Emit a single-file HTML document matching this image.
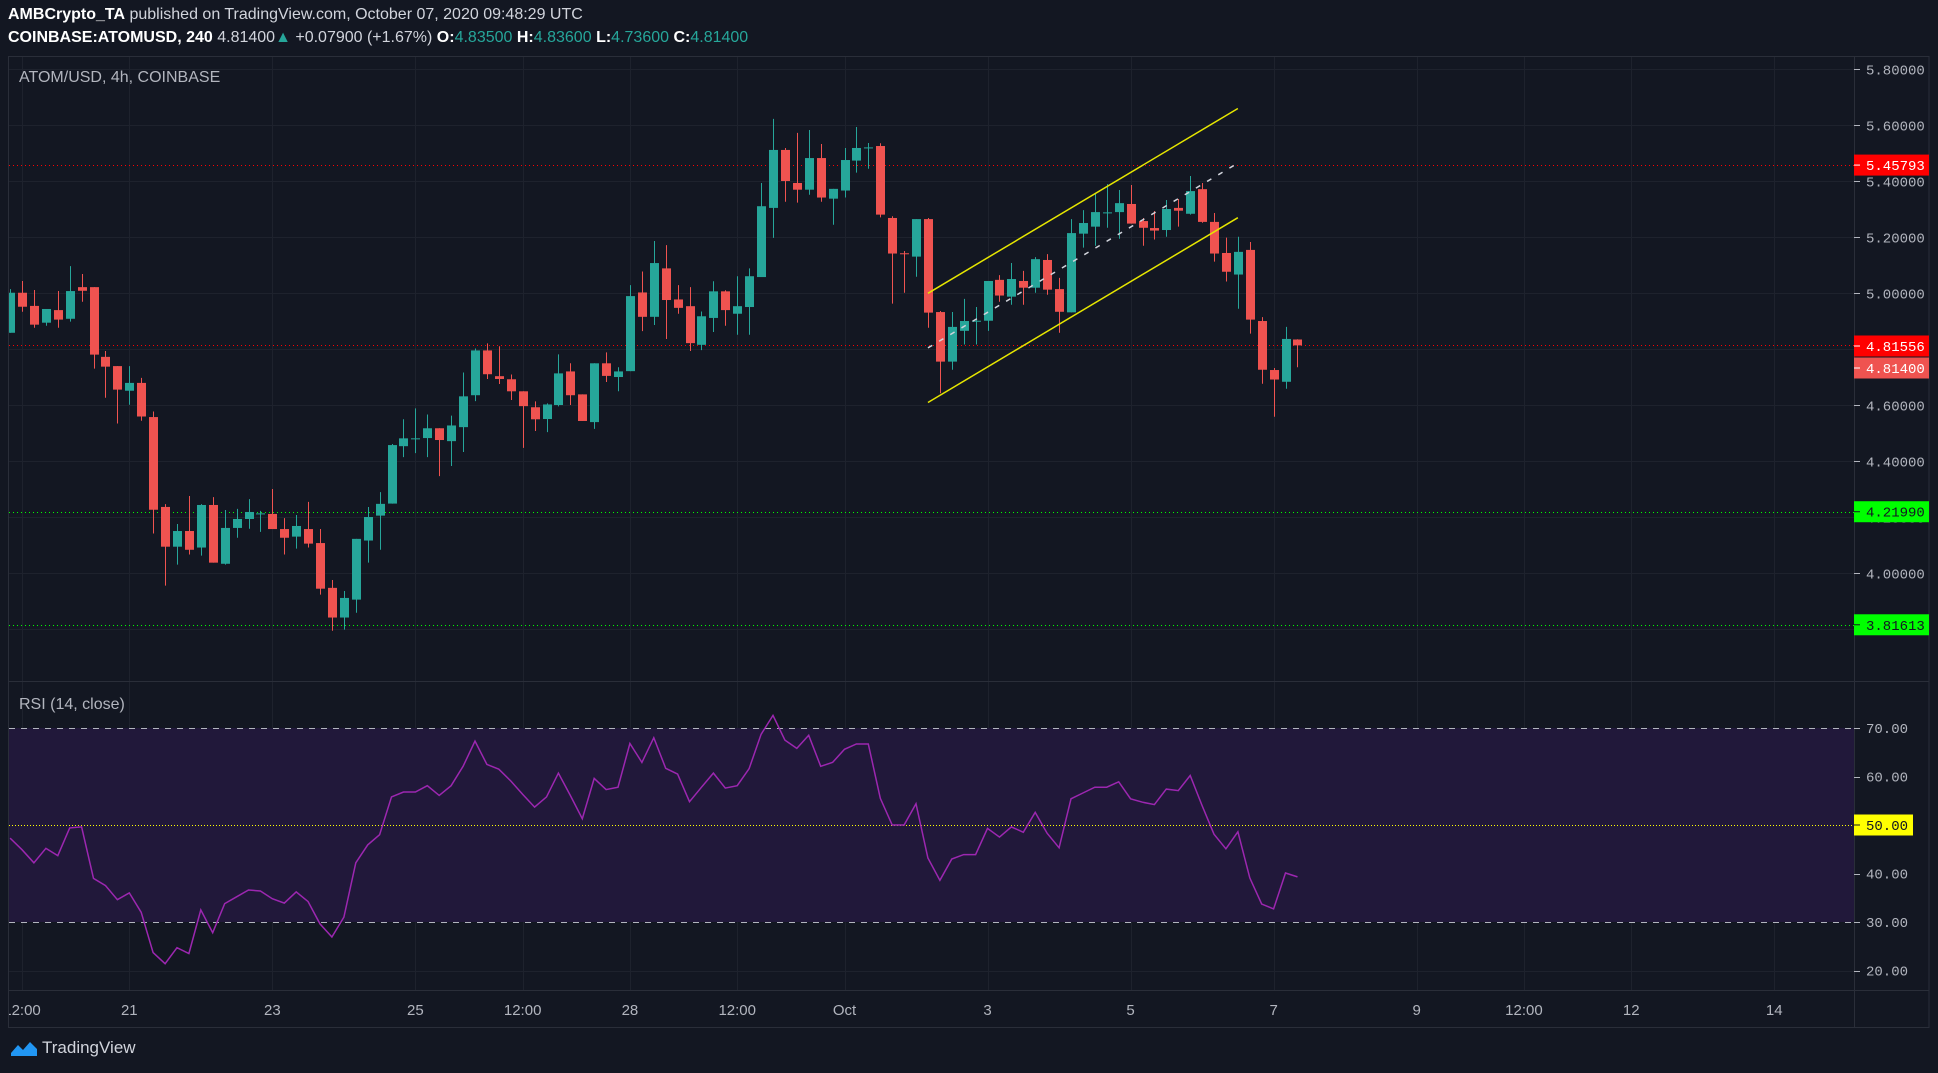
<!DOCTYPE html>
<html><head><meta charset="utf-8">
<style>
html,body{margin:0;padding:0;background:#131722;}
body{width:1938px;height:1073px;overflow:hidden;position:relative;font-family:"Liberation Sans",sans-serif;}
.hdr{position:absolute;left:8px;color:#d1d4dc;font-size:16px;white-space:nowrap;}
svg{position:absolute;left:0;top:0;}
</style></head>
<body>
<div class="hdr" style="top:6px"><b style="color:#fff">AMBCrypto_TA</b> published on TradingView.com, October 07, 2020 09:48:29 UTC</div>
<div class="hdr" style="top:29px"><b style="color:#fff">COINBASE:ATOMUSD, 240</b> 4.81400<span style="color:#26a69a">▲</span> +0.07900 (+1.67%) <b style="color:#fff">O:</b><span style="color:#26a69a">4.83500</span> <b style="color:#fff">H:</b><span style="color:#26a69a">4.83600</span> <b style="color:#fff">L:</b><span style="color:#26a69a">4.73600</span> <b style="color:#fff">C:</b><span style="color:#26a69a">4.81400</span></div>
<svg id="chart" width="1938" height="1073" xmlns="http://www.w3.org/2000/svg"></svg>
<div style="position:absolute;left:10px;top:1038px;color:#d1d4dc;font-size:17px;display:flex;align-items:center">
<svg width="28" height="18" viewBox="0 0 28 18" style="position:static;margin-right:4px"><path d="M1 14 L8 6 L13 11 L20 3 L27 10 L27 17 L1 17Z" fill="#2196f3"/></svg>TradingView</div>
<script>
const startK = -10;
const opens = [4.859,5.002,4.955,4.895,4.940,4.909,5.022,5.022,4.773,4.740,
4.652,4.680,4.558,4.237,4.095,4.151,4.092,4.244,4.034,4.162,
4.194,4.212,4.212,4.158,4.131,4.158,4.108,3.948,3.842,3.906,
4.117,4.206,4.249,4.454,4.480,4.483,4.518,4.472,4.522,4.636,
4.796,4.704,4.693,4.650,4.593,4.551,4.601,4.721,4.639,4.540,
4.750,4.701,4.722,5.003,4.916,5.089,4.978,4.954,4.816,4.912,
5.007,4.927,4.951,5.058,5.305,5.512,5.394,5.370,5.483,5.338,
5.367,5.474,5.519,5.526,5.269,5.143,5.131,5.265,4.933,4.756,
4.866,4.900,4.902,5.048,4.988,5.044,5.020,5.119,5.015,4.932,
5.213,5.238,5.287,5.290,5.319,5.258,5.233,5.226,5.305,5.284,
5.372,5.255,5.144,5.067,5.155,4.901,4.726,4.684,4.835];
const highs = [5.015,5.044,5.012,4.944,5.008,5.097,5.069,5.022,4.794,4.740,
4.740,4.698,4.578,4.247,4.176,4.276,4.247,4.272,4.226,4.230,
4.265,4.223,4.301,4.197,4.208,4.255,4.158,3.976,3.937,4.123,
4.237,4.290,4.462,4.550,4.589,4.567,4.518,4.563,4.717,4.803,
4.821,4.811,4.710,4.650,4.614,4.607,4.782,4.750,4.639,4.750,
4.789,4.736,5.029,5.078,5.187,5.172,5.029,5.022,4.935,5.043,
5.011,5.061,5.089,5.394,5.623,5.519,5.573,5.583,5.533,5.373,
5.519,5.594,5.537,5.536,5.275,5.151,5.265,5.269,4.937,4.933,
4.980,4.951,5.044,5.065,5.108,5.080,5.129,5.140,5.055,5.265,
5.297,5.358,5.390,5.369,5.387,5.269,5.294,5.333,5.337,5.419,
5.394,5.287,5.199,5.202,5.183,4.915,4.733,4.880,4.836];
const lows = [4.859,4.934,4.877,4.884,4.877,4.899,4.970,4.731,4.627,4.535,
4.602,4.545,4.142,3.956,4.031,4.067,4.063,4.038,4.031,4.127,
4.159,4.148,4.158,4.067,4.088,4.092,3.924,3.795,3.799,3.859,
4.038,4.084,4.249,4.415,4.429,4.415,4.347,4.383,4.433,4.615,
4.694,4.676,4.619,4.448,4.508,4.504,4.596,4.601,4.544,4.516,
4.683,4.650,4.722,4.865,4.887,4.837,4.927,4.794,4.797,4.862,
4.884,4.852,4.852,5.058,5.198,5.327,5.324,5.352,5.327,5.245,
5.342,5.431,5.445,5.271,4.963,5.002,5.059,4.877,4.643,4.727,
4.817,4.817,4.866,4.970,4.959,4.959,5.002,4.995,4.859,4.932,
5.163,5.170,5.234,5.195,5.249,5.170,5.192,5.202,5.238,5.281,
5.252,5.113,5.042,4.945,4.856,4.677,4.559,4.659,4.736];
const closes = [5.002,4.952,4.888,4.944,4.906,5.008,5.009,4.781,4.738,4.656,
4.680,4.560,4.227,4.095,4.151,4.084,4.244,4.038,4.162,4.194,
4.219,4.214,4.158,4.127,4.169,4.106,3.945,3.842,3.912,4.123,
4.201,4.248,4.458,4.482,4.482,4.518,4.476,4.528,4.632,4.796,
4.711,4.694,4.650,4.597,4.550,4.603,4.714,4.636,4.544,4.750,
4.705,4.721,4.990,4.916,5.108,4.976,4.948,4.822,4.918,5.007,
4.940,4.954,5.061,5.311,5.512,5.401,5.370,5.483,5.342,5.373,
5.476,5.519,5.521,5.281,5.142,5.140,5.265,4.931,4.756,4.880,
4.901,4.902,5.044,4.992,5.051,5.020,5.122,5.013,4.934,5.215,
5.251,5.290,5.289,5.322,5.249,5.234,5.224,5.301,5.295,5.365,
5.255,5.142,5.077,5.148,4.906,4.727,4.692,4.837,4.814];
const rsiValues = [47.3,44.9,42.2,45.2,43.7,49.4,49.6,39.0,37.5,34.6,
36.0,32.0,23.7,21.4,24.7,23.5,32.5,27.8,33.8,35.2,
36.6,36.4,34.8,33.9,36.2,34.2,29.6,26.9,31.0,42.2,
45.9,48.0,55.8,56.8,56.8,58.1,56.1,58.1,62.1,67.3,
62.5,61.5,59.1,56.3,53.7,55.8,60.7,56.1,51.3,59.6,
57.3,57.8,66.8,62.9,68.0,61.7,60.5,54.8,57.8,60.7,
57.6,58.1,61.6,68.7,72.6,67.5,65.8,68.5,62.1,62.9,
65.6,66.7,66.7,55.5,50.0,50.0,54.4,43.2,38.6,43.0,
43.9,43.9,49.3,47.5,49.6,48.5,52.6,48.3,45.3,55.4,
56.6,57.8,57.8,58.9,55.4,54.7,54.2,57.4,57.1,60.2,
54.0,48.1,45.1,48.6,39.1,33.7,32.7,40.1,39.3];
const priceTicks = [5.8,5.6,5.4,5.2,5.0,4.8,4.6,4.4,4.2,4.0,3.8];
const rsiTicks = [70,60,50,40,30,20];
const timeLabels = ["12:00","21","23","25","12:00","28","12:00","Oct","3","5","7","9","12:00","12","14"];
const timeIdx = [-9,0,12,24,33,42,51,60,72,84,96,108,117,126,138];
const hLevels = [5.45793,4.81556,4.2199,3.81613];
const hColors = ["#ff0000","#ff0000","#00ff00","#00ff00"];
const channelK = [67,93];
const channelUpper = [5.0,5.66];
const channelLower = [4.61,5.27];

const NS="http://www.w3.org/2000/svg";
const svg=document.getElementById('chart');
const L=9,R=1854,T=56,PB=681,RB=990,AXR=1929,BOT=1027;
const xOf=k=>129.3+k*11.92;
const yP=p=>573.3-(p-4)*280;
const yR=r=>922-(r-30)*4.85;
function mk(tag,attrs,parent){const e=document.createElementNS(NS,tag);for(const a in attrs)e.setAttribute(a,attrs[a]);(parent||svg).appendChild(e);return e;}
const defs=mk('defs',{});
const cp=mk('clipPath',{id:'cp'},defs);mk('rect',{x:L,y:T,width:R-L,height:PB-T},cp);
const cr=mk('clipPath',{id:'cr'},defs);mk('rect',{x:L,y:PB,width:R-L,height:RB-PB},cr);

const grid=mk('g',{});


priceTicks.forEach(p=>{const y=Math.round(yP(p))+0.5;if(y>T&&y<PB)mk('line',{x1:L,x2:R,y1:y,y2:y,stroke:'#1e222d','stroke-width':1},grid);});
[60,40,20].forEach(r=>{const y=Math.round(yR(r))+0.5;mk('line',{x1:L,x2:R,y1:y,y2:y,stroke:'#1e222d','stroke-width':1},grid);});
timeIdx.forEach(k=>{const x=Math.round(xOf(k))+0.5;if(x>L&&x<R)mk('line',{x1:x,x2:x,y1:T,y2:RB,stroke:'#1e222d','stroke-width':1},grid);});

const band=mk('rect',{x:L,y:yR(70),width:R-L,height:yR(30)-yR(70),fill:'#21183a'});



const frame=mk('g',{fill:'none',stroke:'#2a2e39','stroke-width':1});


mk('rect',{x:L-0.5,y:T+0.5,width:AXR-L+0.5,height:BOT-T},frame);
mk('line',{x1:R+0.5,x2:R+0.5,y1:T,y2:BOT},frame);
mk('line',{x1:L,x2:AXR,y1:PB+0.5,y2:PB+0.5},frame);
mk('line',{x1:L,x2:AXR,y1:RB+0.5,y2:RB+0.5},frame);

hLevels.forEach((p,i)=>{const y=Math.round(yP(p))+0.5;
const ln=mk('line',{x1:L,x2:R,y1:y,y2:y,stroke:hColors[i],'stroke-width':1,'stroke-dasharray':'1 3'});

});

const cg=mk('g',{'clip-path':'url(#cp)'});


opens.forEach((o,i)=>{const k=i+startK,c=closes[i];const up=c>=o;const col=up?'#26a69a':'#ef5350';
const x=Math.round(xOf(k));
const w=mk('line',{x1:x+0.5,x2:x+0.5,y1:yP(highs[i]),y2:yP(lows[i]),stroke:col,'stroke-width':1},cg);


const y1=yP(Math.max(o,c)),y2=yP(Math.min(o,c));
const b=mk('rect',{x:x-4,y:y1,width:9,height:Math.max(1,y2-y1),fill:col},cg);

});

const ch=mk('g',{'clip-path':'url(#cp)'});


const cx1=xOf(channelK[0]),cx2=xOf(channelK[1]);
mk('line',{x1:cx1,x2:cx2,y1:yP(channelUpper[0]),y2:yP(channelUpper[1]),stroke:'#e6e600','stroke-width':1.5},ch);
mk('line',{x1:cx1,x2:cx2,y1:yP(channelLower[0]),y2:yP(channelLower[1]),stroke:'#e6e600','stroke-width':1.5},ch);
mk('line',{x1:cx1,x2:cx2,y1:yP((channelUpper[0]+channelLower[0])/2),y2:yP((channelUpper[1]+channelLower[1])/2),stroke:'#d1d4dc','stroke-width':1.5,'stroke-dasharray':'5 8'},ch);

const rl=mk('g',{});


[70,30].forEach(r=>{const y=Math.round(yR(r))+0.5;mk('line',{x1:L,x2:R,y1:y,y2:y,stroke:'#b2b5be','stroke-width':1,'stroke-dasharray':'6 6'},rl);});
{const y=Math.round(yR(50))+0.5;mk('line',{x1:L,x2:R,y1:y,y2:y,stroke:'#ffff00','stroke-width':1,'stroke-dasharray':'1 2'},rl);}

const pts=rsiValues.map((r,i)=>xOf(i+startK).toFixed(1)+','+yR(r).toFixed(1)).join(' ');
const rline=mk('polyline',{points:pts,fill:'none',stroke:'#9c27b0','stroke-width':1.5,'clip-path':'url(#cr)'});



const t1=mk('text',{x:19,y:82,fill:'#b2b5be','font-size':16,'font-family':'Liberation Sans, sans-serif'});t1.textContent='ATOM/USD, 4h, COINBASE';


const t2=mk('text',{x:19,y:709,fill:'#b2b5be','font-size':16,'font-family':'Liberation Sans, sans-serif'});t2.textContent='RSI (14, close)';



const ax=mk('g',{'font-family':'Liberation Mono, monospace','font-size':14,fill:'#b2b5be'});


priceTicks.forEach(p=>{const y=yP(p);if(y<T+5||y>PB-5)return;mk('line',{x1:R,x2:R+6,y1:Math.round(y)+0.5,y2:Math.round(y)+0.5,stroke:'#b2b5be'},ax);const t=mk('text',{x:1866,y:y+5},ax);t.textContent=p.toFixed(5);});
rsiTicks.forEach(r=>{const y=yR(r);mk('line',{x1:R,x2:R+6,y1:Math.round(y)+0.5,y2:Math.round(y)+0.5,stroke:'#b2b5be'},ax);const t=mk('text',{x:1866,y:y+5},ax);t.textContent=r.toFixed(2);});

const labels=[[5.45793,yP(5.45793),'#ff0000','#ffffff'],[4.81556,346,'#ff0000','#ffffff'],[4.814,368,'#ef5350','#ffffff'],[4.2199,yP(4.2199),'#00ff00','#131722'],[3.81613,yP(3.81613),'#00ff00','#131722']];
labels.forEach(l=>{const g=mk('g',{});


mk('rect',{x:R,y:l[1]-10.5,width:AXR-R,height:21,fill:l[2]},g);
mk('line',{x1:R,x2:R+6,y1:l[1],y2:l[1],stroke:l[3]},g);
const t=mk('text',{x:1866,y:l[1]+5,fill:l[3],'font-family':'Liberation Mono, monospace','font-size':14},g);t.textContent=l[0].toFixed(5);});
{const g=mk('g',{});


const y=yR(50);mk('rect',{x:R,y:y-10.5,width:59,height:21,fill:'#ffff00'},g);
mk('line',{x1:R,x2:R+6,y1:y,y2:y,stroke:'#131722'},g);
const t=mk('text',{x:1866,y:y+5,fill:'#131722','font-family':'Liberation Mono, monospace','font-size':14},g);t.textContent='50.00';}

const ta=mk('g',{'font-family':'Liberation Sans, sans-serif','font-size':15,fill:'#b2b5be','text-anchor':'middle'});


const tcp=mk('clipPath',{id:'tc'},defs);mk('rect',{x:L,y:RB,width:R-L,height:BOT-RB},tcp);
ta.setAttribute('clip-path','url(#tc)');
timeLabels.forEach((s,i)=>{const t=mk('text',{x:xOf(timeIdx[i]),y:1015},ta);t.textContent=s;});
</script>
</body></html>
